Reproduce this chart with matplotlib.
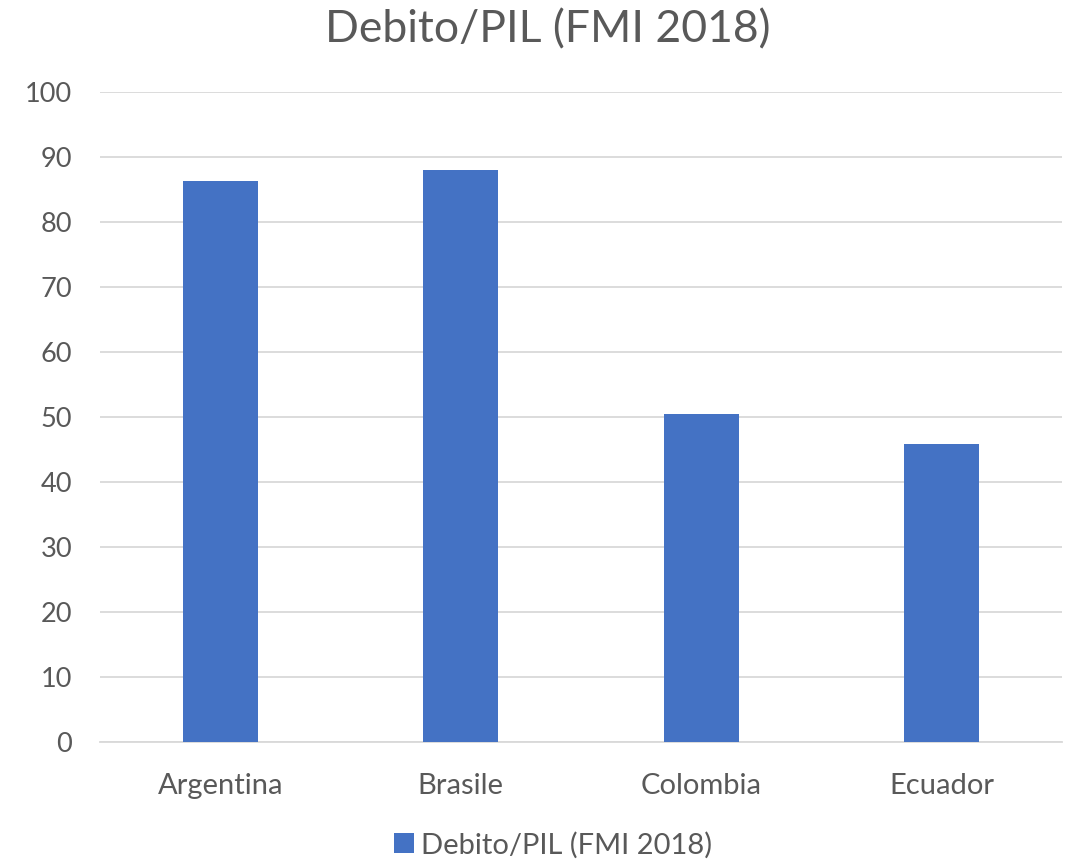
import matplotlib
matplotlib.use("Agg")
import matplotlib.pyplot as plt
from matplotlib.patches import Patch

countries = ["Argentina", "Brasile", "Colombia", "Ecuador"]
debt_to_gdp = [86.2, 87.9, 50.4, 45.8]
series_name = "Debito/PIL (FMI 2018)"
y_ticks = list(range(0, 101, 10))

bar_color = "#4472C4"
text_color = "#595959"
grid_color = "#D9D9D9"

plt.rcParams["font.family"] = ["Lato", "DejaVu Sans"]

fig = plt.figure(figsize=(10.69, 8.59), dpi=100)
ax = fig.add_axes([100 / 1069, 117 / 859, 962 / 1069, 650.5 / 859])

x = range(len(countries))
ax.bar(x, debt_to_gdp, width=0.31, color=bar_color, zorder=3)

ax.set_xlim(-0.5, len(countries) - 0.5)
ax.set_ylim(0, 100)
ax.set_yticks(y_ticks)
ax.set_xticks(list(x))
ax.set_xticklabels(countries)
ax.yaxis.grid(True, color=grid_color, linewidth=1.3, zorder=0)
ax.tick_params(axis="both", length=0, labelcolor=text_color)
ax.tick_params(axis="y", pad=20, labelsize=19.5)
ax.tick_params(axis="x", pad=22, labelsize=21)
for side in ["top", "right", "left"]:
    ax.spines[side].set_visible(False)
ax.spines["bottom"].set_color(grid_color)
ax.spines["bottom"].set_linewidth(1.3)

fig.text(548 / 1069, 1 - 30 / 859, series_name, ha="center", va="center",
         fontsize=32, color=text_color)

handle = Patch(facecolor=bar_color, edgecolor="none")
fig.legend([handle], [series_name], loc="center", bbox_to_anchor=(553 / 1069, 1 - 845 / 859),
           frameon=False, fontsize=21, labelcolor=text_color,
           handlelength=0.7, handleheight=0.7, handletextpad=0.25)

fig.savefig("out.png", dpi=100, facecolor="white")
